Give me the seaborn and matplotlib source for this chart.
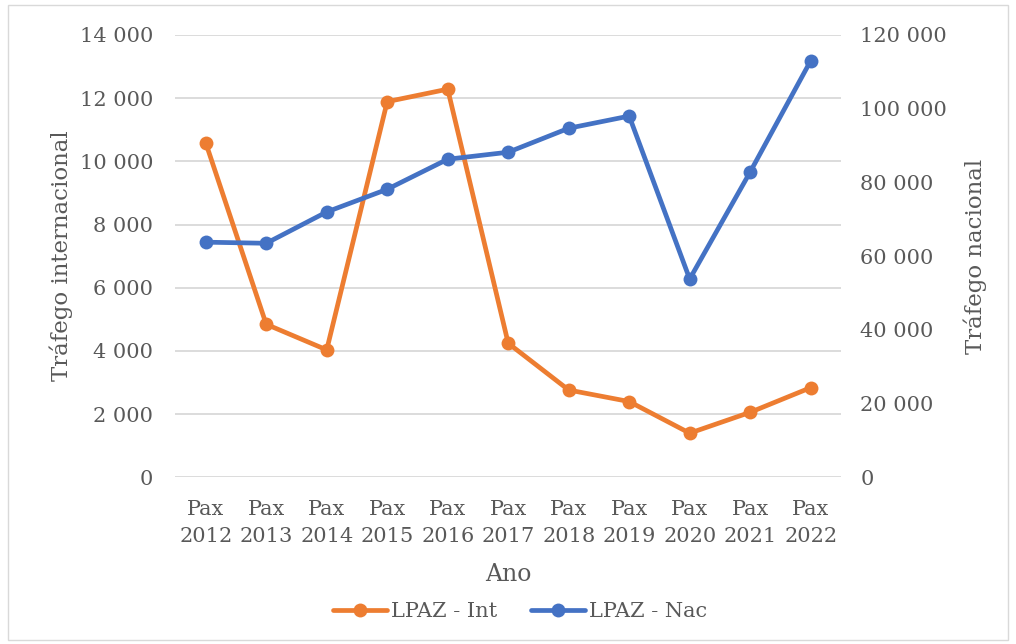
import numpy as np
import pandas as pd
import matplotlib.pyplot as plt
import seaborn as sns
from matplotlib.patches import Rectangle
from matplotlib.ticker import FuncFormatter

years = ['2012', '2013', '2014', '2015', '2016', '2017', '2018', '2019', '2020', '2021', '2022']
int_pax = [10590, 4845, 4035, 11890, 12285, 4245, 2765, 2400, 1400, 2060, 2840]
nac_pax = [63800, 63500, 72000, 78150, 86300, 88200, 94700, 98000, 53800, 82850, 113000]

df = pd.DataFrame({'pos': np.arange(len(years)), 'int': int_pax, 'nac': nac_pax})

sns.set_style('white')
plt.rcParams['font.family'] = ['DejaVu Serif']
grey = '#595959'
orange = '#ED7D31'
blue = '#4472C4'

fig = plt.figure(figsize=(10.16, 6.44), dpi=100)
ax = fig.add_axes([0.1727, 0.2587, 0.655, 0.687])
ax2 = ax.twinx()

sns.lineplot(data=df, x='pos', y='int', ax=ax, color=orange, marker='o',
             linewidth=3.4, markersize=10, markeredgewidth=0, label='LPAZ - Int', legend=False)
sns.lineplot(data=df, x='pos', y='nac', ax=ax2, color=blue, marker='o',
             linewidth=3.4, markersize=10, markeredgewidth=0, label='LPAZ - Nac', legend=False)

fmt = FuncFormatter(lambda v, p: f'{int(v):,}'.replace(',', ' '))
ax.set_ylim(0, 14000)
ax.set_yticks(range(0, 14001, 2000))
ax.yaxis.set_major_formatter(fmt)
ax2.set_ylim(0, 120000)
ax2.set_yticks(range(0, 120001, 20000))
ax2.yaxis.set_major_formatter(fmt)
ax.set_xlim(-0.5, len(years) - 0.5)
ax.set_xticks(df['pos'])
ax.set_xticklabels([f'Pax\n{y}' for y in years], linespacing=1.55)

ax.grid(axis='y', color='#D9D9D9', linewidth=1.3)
ax.set_axisbelow(True)
for a in (ax, ax2):
    for s in a.spines.values():
        s.set_visible(False)
    a.tick_params(length=0, labelsize=15, colors=grey)
ax.tick_params(axis='x', pad=16)
ax.tick_params(axis='y', pad=16)
ax2.tick_params(axis='y', pad=14)

ax.set_xlabel('Ano', fontsize=17, color=grey, labelpad=12)
ax.set_ylabel('Tráfego internacional', fontsize=16.5, color=grey, labelpad=5)
ax2.set_ylabel('Tráfego nacional', fontsize=16.5, color=grey, labelpad=12)

h1, l1 = ax.get_legend_handles_labels()
h2, l2 = ax2.get_legend_handles_labels()
fig.legend(h1 + h2, l1 + l2, loc='center', bbox_to_anchor=(0.512, 0.05), ncol=2,
           frameon=False, fontsize=15, labelcolor=grey, handlelength=2.6,
           handletextpad=0.2, columnspacing=1.6)

fig.patches.append(Rectangle((0.008, 0.006), 0.984, 0.986, transform=fig.transFigure,
                             fill=False, edgecolor='#D9D9D9', linewidth=1))

fig.savefig('out.png', dpi=100)
